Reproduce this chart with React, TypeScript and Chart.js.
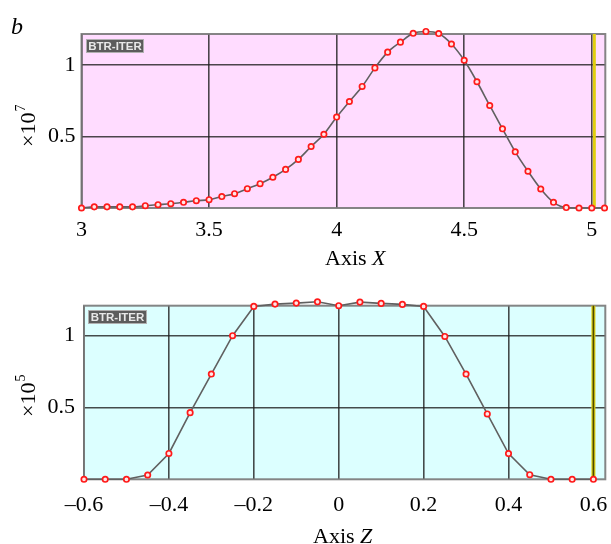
import { useEffect, useRef } from 'react';
import { Chart, registerables } from 'chart.js';

Chart.register(...registerables);

// ---------- Panel 1 : Axis X ----------
const X_POSITIONS = [
  3.0, 3.05, 3.1, 3.15, 3.2, 3.25, 3.3, 3.35, 3.4, 3.45, 3.5, 3.55, 3.6, 3.65,
  3.7, 3.75, 3.8, 3.85, 3.9, 3.95, 4.0, 4.05, 4.1, 4.15, 4.2, 4.25, 4.3, 4.35,
  4.4, 4.45, 4.5, 4.55, 4.6, 4.65, 4.7, 4.75, 4.8, 4.85, 4.9, 4.95, 5.0, 5.05,
];
const X_SIGNAL = [
  0.0, 0.008, 0.008, 0.008, 0.008, 0.016, 0.023, 0.03, 0.04, 0.051, 0.058,
  0.08, 0.1, 0.135, 0.17, 0.215, 0.27, 0.34, 0.43, 0.516, 0.636, 0.745, 0.85,
  0.98, 1.09, 1.16, 1.222, 1.235, 1.22, 1.147, 1.033, 0.883, 0.717, 0.554,
  0.393, 0.257, 0.133, 0.04, 0.003, 0.0, 0.0, 0.0,
];
const X_TICKS = [3, 3.5, 4, 4.5, 5];
const X_TICK_LABELS = ['3', '3.5', '4', '4.5', '5'];
const X_Y_TICKS = [0.5, 1];
const X_Y_TICK_LABELS = ['0.5', '1'];
const X_MARK = 5.01;

// ---------- Panel 2 : Axis Z ----------
const Z_POSITIONS = [
  -0.6, -0.55, -0.5, -0.45, -0.4, -0.35, -0.3, -0.25, -0.2, -0.15, -0.1, -0.05,
  0.0, 0.05, 0.1, 0.15, 0.2, 0.25, 0.3, 0.35, 0.4, 0.45, 0.5, 0.55, 0.6,
];
const Z_SIGNAL = [
  0.0, 0.0, 0.0, 0.03, 0.18, 0.464, 0.733, 1.0, 1.204, 1.22, 1.227, 1.236,
  1.209, 1.234, 1.225, 1.218, 1.204, 0.995, 0.733, 0.455, 0.179, 0.032, 0.0,
  0.0, 0.0,
];
const Z_TICKS = [-0.6, -0.4, -0.2, 0, 0.2, 0.4, 0.6];
const Z_TICK_LABELS = ['–0.6', '–0.4', '–0.2', '0', '0.2', '0.4', '0.6'];
const Z_Y_TICKS = [0.5, 1];
const Z_Y_TICK_LABELS = ['0.5', '1'];
const Z_MARK = 0.6;

const W = 611;
const H = 272;
const SERIF = '"Liberation Serif", "Times New Roman", serif';

type PanelOpts = {
  xs: number[];
  ys: number[];
  xMin: number;
  xMax: number;
  yMax: number;
  xTicks: number[];
  xTickLabels: string[];
  yTicks: number[];
  yTickLabels: string[];
  bg: string;
  area: { left: number; top: number; right: number; bottom: number };
  xLabelPad: number;
  yLabelPad: number;
  mark: number;
  markDark: boolean;
  axisName: string;
  axisVar: string;
  axisX: number;
  axisBase: number;
  exp: string;
  expStartY: number;
  showLetter: boolean;
  tension: number;
  box: { x: number; y: number; w: number; h: number };
};

function makeChart(canvas: HTMLCanvasElement, o: PanelOpts) {
  const overlay = {
    id: 'overlay',
    beforeDraw(chart: any) {
      const { ctx, chartArea: a } = chart;
      ctx.save();
      ctx.fillStyle = o.bg;
      ctx.fillRect(a.left, a.top, a.right - a.left, a.bottom - a.top);
      ctx.restore();
    },
    beforeDatasetsDraw(chart: any) {
      const { ctx, chartArea: a } = chart;
      const xs = chart.scales.x;
      ctx.save();
      ctx.strokeStyle = 'rgba(120,120,120,0.9)';
      ctx.lineWidth = 2;
      ctx.strokeRect(a.left, a.top, a.right - a.left, a.bottom - a.top);
      const px = xs.getPixelForValue(o.mark);
      ctx.beginPath();
      ctx.moveTo(px, a.top);
      ctx.lineTo(px, a.bottom);
      ctx.strokeStyle = '#e0cf10';
      ctx.lineWidth = o.markDark ? 4 : 3;
      ctx.stroke();
      if (o.markDark) {
        ctx.beginPath();
        ctx.moveTo(px, a.top);
        ctx.lineTo(px, a.bottom);
        ctx.strokeStyle = '#4a4a00';
        ctx.lineWidth = 1.6;
        ctx.stroke();
      }
      ctx.restore();
    },
    afterDraw(chart: any) {
      const { ctx } = chart;
      ctx.save();
      const b = o.box;
      ctx.fillStyle = '#5c5c5c';
      ctx.fillRect(b.x, b.y, b.w, b.h);
      ctx.strokeStyle = '#b0b0b0';
      ctx.lineWidth = 1;
      ctx.strokeRect(b.x + 0.5, b.y + 0.5, b.w - 1, b.h - 1);
      ctx.fillStyle = '#e8e8e8';
      ctx.font = 'bold 11.5px "Liberation Sans", Arial, sans-serif';
      ctx.textAlign = 'center';
      ctx.textBaseline = 'middle';
      ctx.fillText('BTR-ITER', b.x + b.w / 2, b.y + b.h / 2 + 0.5, b.w - 3);

      ctx.fillStyle = '#000';
      ctx.textAlign = 'left';
      ctx.textBaseline = 'alphabetic';
      ctx.font = `22px ${SERIF}`;
      ctx.fillText(o.axisName, o.axisX, o.axisBase);
      const w1 = ctx.measureText(o.axisName).width;
      ctx.font = `italic 22px ${SERIF}`;
      ctx.fillText(o.axisVar, o.axisX + w1, o.axisBase);

      ctx.save();
      ctx.translate(35, o.expStartY);
      ctx.rotate(-Math.PI / 2);
      ctx.font = `22px ${SERIF}`;
      ctx.fillText('×10', 0, 0);
      const w2 = ctx.measureText('×10').width;
      ctx.font = `14px ${SERIF}`;
      ctx.fillText(o.exp, w2 + 1, -10);
      ctx.restore();

      if (o.showLetter) {
        ctx.font = `italic 24px ${SERIF}`;
        ctx.fillText('b', 11, 34);
      }
      ctx.restore();
    },
  };

  return new Chart(canvas, {
    type: 'line',
    data: {
      datasets: [
        {
          data: o.xs.map((x, i) => ({ x, y: o.ys[i] })),
          borderColor: '#606060',
          borderWidth: 1.6,
          tension: o.tension,
          cubicInterpolationMode: o.tension > 0 ? 'monotone' : 'default',
          pointRadius: 2.7,
          pointBorderWidth: 1.7,
          pointBorderColor: '#ff1a1a',
          pointBackgroundColor: '#ffe6e6',
          clip: false,
        } as any,
      ],
    },
    options: {
      responsive: false,
      animation: false,
      devicePixelRatio: 1,
      layout: {
        padding: { top: o.area.top, right: W - o.area.right, left: 0, bottom: 0 },
      },
      plugins: { legend: { display: false }, tooltip: { enabled: false } },
      scales: {
        x: {
          type: 'linear',
          min: o.xMin,
          max: o.xMax,
          afterBuildTicks: (s: any) => {
            s.ticks = o.xTicks.map((v) => ({ value: v }));
          },
          afterFit: (s: any) => {
            s.height = H - o.area.bottom;
            s.paddingLeft = 0;
            s.paddingRight = 0;
          },
          ticks: {
            autoSkip: false,
            maxRotation: 0,
            padding: o.xLabelPad,
            color: '#000',
            font: { family: SERIF, size: 22 },
            callback: (v: any) => {
              const i = o.xTicks.findIndex((t) => Math.abs(t - v) < 1e-9);
              return i >= 0 ? o.xTickLabels[i] : '';
            },
          },
          grid: {
            color: 'rgba(30,30,30,0.8)',
            lineWidth: 1.6,
            drawTicks: false,
          },
          border: { display: false },
        },
        y: {
          type: 'linear',
          min: 0,
          max: o.yMax,
          afterBuildTicks: (s: any) => {
            s.ticks = o.yTicks.map((v) => ({ value: v }));
          },
          afterFit: (s: any) => {
            s.width = o.area.left;
          },
          ticks: {
            padding: o.yLabelPad,
            color: '#000',
            font: { family: SERIF, size: 22 },
            callback: (v: any) => {
              const i = o.yTicks.findIndex((t) => Math.abs(t - v) < 1e-9);
              return i >= 0 ? o.yTickLabels[i] : '';
            },
          },
          grid: {
            color: 'rgba(30,30,30,0.8)',
            lineWidth: 1.6,
            drawTicks: false,
          },
          border: { display: false },
        },
      },
    },
    plugins: [overlay],
  } as any);
}

export default function App() {
  const topRef = useRef<HTMLCanvasElement>(null);
  const botRef = useRef<HTMLCanvasElement>(null);

  useEffect(() => {
    const c1 = makeChart(topRef.current!, {
      xs: X_POSITIONS,
      ys: X_SIGNAL,
      xMin: 3,
      xMax: 5.053,
      yMax: 1.217,
      xTicks: X_TICKS,
      xTickLabels: X_TICK_LABELS,
      yTicks: X_Y_TICKS,
      yTickLabels: X_Y_TICK_LABELS,
      bg: '#ffdcff',
      area: { left: 81.5, top: 34, right: 608, bottom: 208 },
      xLabelPad: 9,
      yLabelPad: 6,
      mark: X_MARK,
      markDark: false,
      axisName: 'Axis ',
      axisVar: 'X',
      axisX: 325,
      axisBase: 265,
      exp: '7',
      expStartY: 147,
      showLetter: true,
      tension: 0.4,
      box: { x: 86, y: 39, w: 58, h: 14 },
    });
    const c2 = makeChart(botRef.current!, {
      xs: Z_POSITIONS,
      ys: Z_SIGNAL,
      xMin: -0.6,
      xMax: 0.628,
      yMax: 1.209,
      xTicks: Z_TICKS,
      xTickLabels: Z_TICK_LABELS,
      yTicks: Z_Y_TICKS,
      yTickLabels: Z_Y_TICK_LABELS,
      bg: '#dcffff',
      area: { left: 84, top: 33.7, right: 611, bottom: 207.3 },
      xLabelPad: 13,
      yLabelPad: 9,
      mark: Z_MARK,
      markDark: true,
      axisName: 'Axis ',
      axisVar: 'Z',
      axisX: 313,
      axisBase: 271,
      exp: '5',
      expStartY: 145,
      showLetter: false,
      tension: 0,
      box: { x: 88, y: 38, w: 59, h: 14 },
    });
    return () => {
      c1.destroy();
      c2.destroy();
    };
  }, []);

  return (
    <div style={{ position: 'fixed', left: 0, top: 0, width: W, height: 544, background: '#fff' }}>
      <canvas ref={topRef} width={W} height={H} style={{ position: 'absolute', left: 0, top: 0, display: 'block' }} />
      <canvas ref={botRef} width={W} height={H} style={{ position: 'absolute', left: 0, top: H, display: 'block' }} />
    </div>
  );
}
